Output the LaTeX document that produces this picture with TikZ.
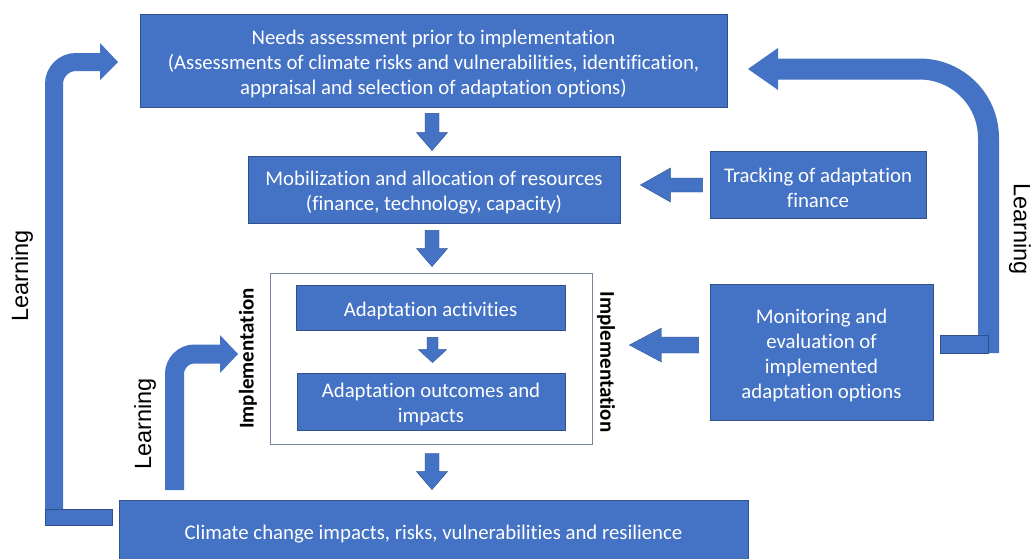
\documentclass[tikz,border=0pt]{standalone}
\usepackage{fontspec}
\setmainfont{Carlito}[Ligatures=NoCommon]
\newfontfamily\arialf{Liberation Sans}
\usetikzlibrary{calc}
\definecolor{boxblue}{RGB}{68,114,196}
\definecolor{boxedge}{RGB}{47,82,143}
\definecolor{frameedge}{RGB}{120,134,160}
\newcommand\tup{\rule{0pt}{21pt}}
\tikzset{
  bluebox/.style={draw=boxedge, line width=0.8pt, fill=boxblue, text=white, align=center,
    font=\fontsize{20.8}{25}\selectfont, inner sep=0pt},
  framebox/.style={draw=frameedge, line width=0.9pt, fill=white, inner sep=0pt},
  arrowfill/.style={fill=boxblue, draw=boxedge, line width=0.4pt},
  learnpath/.style={draw=boxblue, line cap=butt, line join=miter},
  learntext/.style={font=\arialf\fontsize{23.5}{26}\selectfont, text=black, inner sep=0pt},
  impltext/.style={font=\fontsize{21}{24}\selectfont\bfseries, text=black, inner sep=0pt},
}
% down block arrow: start, end, shaft half-width, head half-width, head length
\newcommand\dnarrow[5]{\path[arrowfill] let \p1=#1, \p2=#2 in
  (\x1-#3,\y1) -- (\x1+#3,\y1) -- (\x1+#3,\y2+#5) -- (\x1+#4,\y2+#5) -- (\x1,\y2)
  -- (\x1-#4,\y2+#5) -- (\x1-#3,\y2+#5) -- cycle;}
% left block arrow: start (right end), end (tip), shaft half, head half, head length
\newcommand\lfarrow[5]{\path[arrowfill] let \p1=#1, \p2=#2 in
  (\x1,\y1+#3) -- (\x2+#5,\y1+#3) -- (\x2+#5,\y1+#4) -- (\x2,\y1) -- (\x2+#5,\y1-#4)
  -- (\x2+#5,\y1-#3) -- (\x1,\y1-#3) -- cycle;}
\begin{document}
\begin{tikzpicture}[x=1pt,y=-1pt]
\useasboundingbox (0,0) rectangle (1033,558);
\fill[white] (0,0) rectangle (1033,558);

% boxes
\node[bluebox, minimum width=587pt, minimum height=93pt] (top) at (433.5,60.5)
  {\tup Needs assessment prior to implementation\\(Assessments of climate risks and vulnerabilities, identification,\\appraisal and selection of adaptation options)};
\node[bluebox, minimum width=372pt, minimum height=67pt] (mob) at (434,189.5)
  {\tup Mobilization and allocation of resources\\(finance, technology, capacity)};
\node[bluebox, minimum width=216pt, minimum height=67pt] (track) at (818,184.5)
  {\tup Tracking of adaptation\\finance};
\node[framebox, minimum width=322pt, minimum height=171pt] (frame) at (431,358.5) {};
\node[bluebox, minimum width=269pt, minimum height=45pt] (act) at (430.5,307.5)
  {\tup Adaptation activities};
\node[bluebox, minimum width=268pt, minimum height=57pt] (out) at (431,401.5)
  {\tup Adaptation outcomes and\\impacts};
\node[bluebox, minimum width=223pt, minimum height=136pt] (mon) at (821.5,352)
  {\tup Monitoring and\\evaluation of\\implemented\\adaptation options};
\node[bluebox, minimum width=629pt, minimum height=62pt] (bot) at (433.5,531)
  {\tup Climate change impacts, risks, vulnerabilities and resilience};

% straight block arrows
\dnarrow{([xshift=-1.5pt,yshift=-6pt]top.south)}{([yshift=5pt]mob.north)}{7pt}{15.5pt}{18pt}
\dnarrow{([xshift=-2pt,yshift=-7pt]mob.south)}{([yshift=6pt]frame.north)}{7pt}{15.5pt}{18pt}
\dnarrow{([xshift=2pt,yshift=-7pt]act.south)}{([yshift=10pt]out.north)}{5.5pt}{14pt}{13pt}
\dnarrow{([xshift=1pt,yshift=-9pt]frame.south)}{([yshift=10pt]bot.north)}{7pt}{15.5pt}{18pt}
\lfarrow{([xshift=-7pt,yshift=-0.5pt]track.west)}{([xshift=20pt]mob.east)}{7pt}{17pt}{30pt}
\lfarrow{([xshift=-11pt,yshift=7pt]mon.west)}{([xshift=37pt]frame.east)}{8pt}{17pt}{32pt}

% learning arrows
\coordinate (lbl) at (54,525);
\coordinate (lbm) at (174.5,490);
\coordinate (lbr) at (988.5,353);
\draw[learnpath, line width=18pt, rounded corners=22pt] (lbl) -- (54,62) -- (101,62);
\path[arrowfill, draw=none] (100,43) -- (118,62) -- (100,80) -- cycle;
\path[fill=boxblue, draw=boxedge, line width=0.5pt] (45,509) rectangle (112,525);

\draw[learnpath, line width=19pt, rounded corners=20pt] (lbm) -- (174.5,354) -- (221,354);
\path[arrowfill, draw=none] (220,335) -- (238,354) -- (220,373) -- cycle;

\draw[learnpath, line width=21pt, rounded corners=69pt] (lbr) -- (988.5,69) -- (777,69);
\path[arrowfill, draw=none] (778,48) -- (748,69) -- (778,90) -- cycle;
\path[fill=boxblue, draw=boxedge, line width=0.5pt] (940,335) rectangle (988,353);

% labels
\node[learntext, rotate=90] (l1) at (22,276) {Learning};
\node[learntext, rotate=90] (l2) at (145,424) {Learning};
\node[learntext, rotate=-90] (l3) at (1020,229) {Learning};
\node[impltext, rotate=90] (i1) at (248,358.5) {Implementation};
\node[impltext, rotate=-90] (i2) at (606,362) {Implementation};
\end{tikzpicture}
\end{document}
